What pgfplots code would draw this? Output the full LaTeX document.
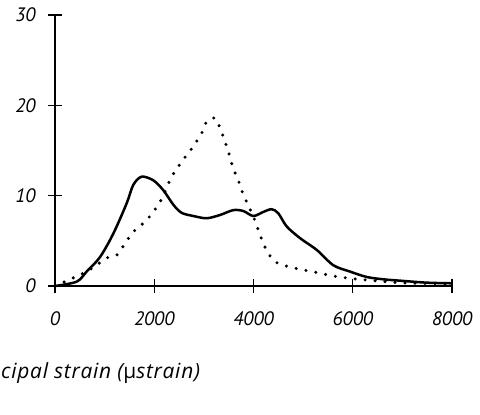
\documentclass[border=0pt]{standalone}
\usepackage{pgfplots}
\pgfplotsset{compat=1.18}
\usepackage{fontspec}
\setmainfont{PT Sans}
\newfontfamily\labelfont[LetterSpace=3.5]{Open Sans}
\begin{document}
\begin{tikzpicture}
\begin{axis}[name=ax, at={(0,0)}, anchor=south west,
  scale only axis, width=397bp, height=271bp,
  xmin=0, xmax=8000, ymin=0, ymax=30,
  axis lines=left, axis line style={-, line width=1.4bp},
  xtick={0,2000,4000,6000,8000}, ytick={0,10,20,30},
  tick align=center, major tick length=14bp,
  tick style={line width=1.4bp, black},
  ticklabel style={font=\fontsize{19.5}{22}\selectfont\itshape},
  /pgf/number format/assume math mode=true,
  /pgf/number format/set thousands separator={},
  scaled x ticks=false,
  xticklabel style={yshift=-15bp},
  yticklabel style={xshift=-9bp},
  clip=false]
\addplot[black, line width=2.5bp, smooth, tension=0.5] coordinates {
(0,0) (437,0.48) (638,1.6) (907,3.2) (1175,5.8) (1444,9.15) (1578,11.2) (1746,12.1)
(1981,11.7) (2183,10.6) (2384,9.0) (2552,8.1) (2787,7.75) (3056,7.5) (3325,7.86)
(3593,8.4) (3795,8.3) (3996,7.75) (4198,8.2) (4366,8.5) (4500,8.05) (4668,6.6)
(4937,5.3) (5273,4.0) (5608,2.3) (5944,1.6) (6280,1.0) (6616,0.74) (6952,0.59)
(7489,0.37) (8000,0.3)};
\addplot[black, line width=3.4bp, line cap=round, dash pattern=on 0pt off 10bp, smooth, tension=0.4] coordinates {
(0,0) (638,1.6) (1041,3.1) (1243,3.4) (1410,4.7) (1578,6.0) (1847,7.3) (2116,9.3)
(2351,12.1) (2586,14.0) (2754,15.2) (2955,16.9) (3056,18.2) (3224,18.6) (3325,17.5)
(3405,16.3) (3492,14.9) (3593,13.0) (3694,11.7) (3782,10.3) (3862,9.3) (3996,7.7)
(4097,6.2) (4198,4.7) (4299,3.6) (4433,2.7) (4634,2.25) (4937,1.85) (5273,1.5)
(5608,1.1) (5944,0.85) (6280,0.66) (6952,0.37) (8000,0.22)};
\end{axis}
\node[anchor=base west, inner sep=0pt, font=\labelfont\fontsize{21}{23}\selectfont\itshape]
  at ([xshift=-54bp, yshift=-92bp]ax.south west) {cipal strain ({\upshape µ}strain)};
\pgfresetboundingbox
\path[use as bounding box] ([xshift=-55bp, yshift=-129bp]ax.south west) rectangle ([xshift=28bp, yshift=15bp]ax.north east);
\end{tikzpicture}
\end{document}
